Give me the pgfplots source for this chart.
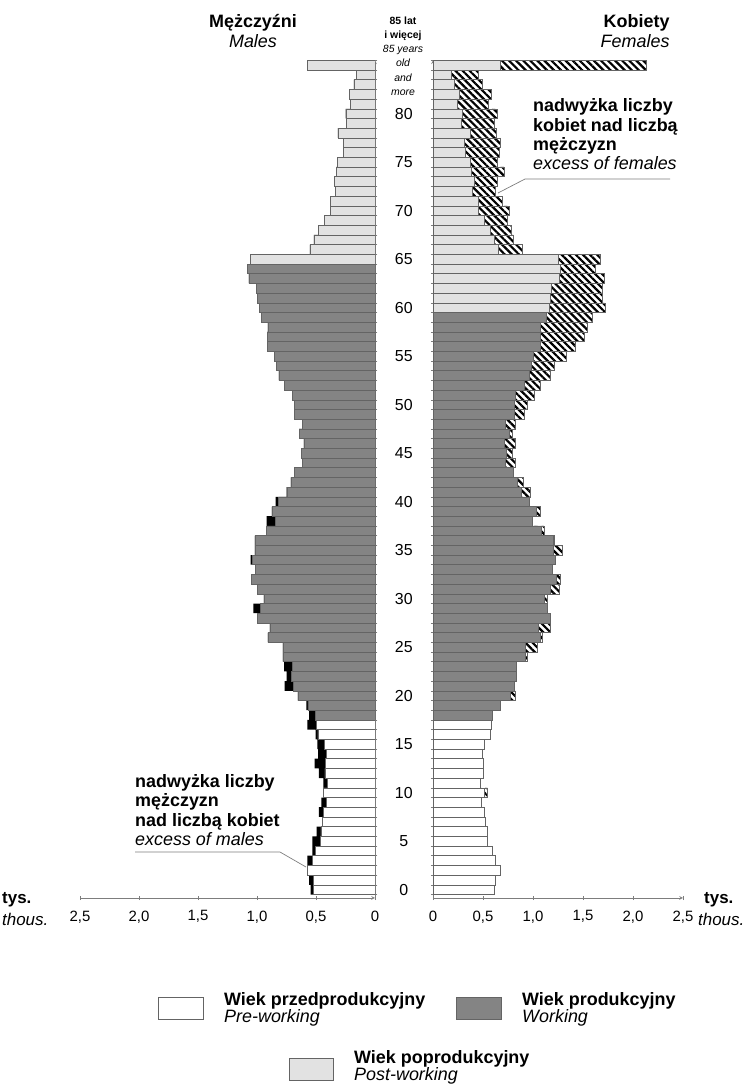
\documentclass[border=0pt]{standalone}
\usepackage{fontspec}
\setmainfont{Liberation Sans}
\usepackage{pgfplots}
\pgfplotsset{compat=1.18}
\usepackage{pgfplotstable}
\usetikzlibrary{patterns.meta}

\definecolor{work}{RGB}{132,132,132}
\definecolor{post}{RGB}{226,226,226}
\definecolor{edge}{RGB}{100,100,100}
\definecolor{axisgray}{RGB}{125,125,125}

% males: total and part common with females (thousands, left axis)
\pgfplotstableread{
age total common
0 0.545 0.521
1 0.559 0.525
2 0.574 0.574
3 0.574 0.531
4 0.531 0.503
5 0.531 0.460
6 0.494 0.458
7 0.447 0.447
8 0.475 0.435
9 0.455 0.411
10 0.438 0.438
11 0.438 0.404
12 0.475 0.425
13 0.511 0.422
14 0.483 0.414
15 0.489 0.432
16 0.503 0.485
17 0.574 0.496
18 0.559 0.506
19 0.582 0.569
20 0.653 0.653
21 0.765 0.691
22 0.748 0.708
23 0.771 0.703
24 0.780 0.780
25 0.780 0.780
26 0.907 0.907
27 0.890 0.890
28 0.997 0.997
29 1.031 0.969
30 0.941 0.941
31 0.997 0.997
32 1.048 1.048
33 1.011 1.011
34 1.053 1.038
35 1.019 1.019
36 1.019 1.019
37 0.918 0.918
38 0.918 0.845
39 0.875 0.875
40 0.842 0.816
41 0.748 0.748
42 0.714 0.714
43 0.682 0.682
44 0.616 0.616
45 0.625 0.625
46 0.602 0.602
47 0.644 0.644
48 0.616 0.616
49 0.686 0.686
50 0.686 0.686
51 0.701 0.701
52 0.771 0.771
53 0.814 0.814
54 0.833 0.833
55 0.850 0.850
56 0.913 0.913
57 0.913 0.913
58 0.907 0.907
59 0.964 0.964
60 0.983 0.983
61 0.997 0.997
62 1.003 1.003
63 1.068 1.068
64 1.082 1.082
65 1.059 1.059
66 0.551 0.551
67 0.517 0.517
68 0.483 0.483
69 0.432 0.432
70 0.381 0.381
71 0.381 0.381
72 0.333 0.333
73 0.347 0.347
74 0.328 0.328
75 0.319 0.319
76 0.271 0.271
77 0.269 0.269
78 0.314 0.314
79 0.240 0.240
80 0.248 0.248
81 0.209 0.209
82 0.220 0.220
83 0.178 0.178
84 0.155 0.155
85 0.574 0.574
}\male

% females: total and part common with males (thousands, right axis)
\pgfplotstableread{
age total common
0 0.615 0.615
1 0.620 0.620
2 0.677 0.677
3 0.627 0.627
4 0.593 0.593
5 0.543 0.543
6 0.540 0.540
7 0.527 0.527
8 0.513 0.513
9 0.485 0.485
10 0.543 0.517
11 0.477 0.477
12 0.502 0.502
13 0.498 0.498
14 0.488 0.488
15 0.510 0.510
16 0.572 0.572
17 0.585 0.585
18 0.597 0.597
19 0.672 0.672
20 0.827 0.770
21 0.815 0.815
22 0.835 0.835
23 0.830 0.830
24 0.943 0.920
25 1.043 0.920
26 1.093 1.070
27 1.177 1.050
28 1.177 1.177
29 1.143 1.143
30 1.143 1.110
31 1.267 1.177
32 1.277 1.237
33 1.193 1.193
34 1.225 1.225
35 1.293 1.203
36 1.210 1.203
37 1.110 1.083
38 0.997 0.997
39 1.077 1.033
40 0.963 0.963
41 0.970 0.883
42 0.903 0.843
43 0.805 0.805
44 0.820 0.727
45 0.793 0.737
46 0.827 0.710
47 0.793 0.760
48 0.827 0.727
49 0.910 0.810
50 0.943 0.810
51 1.010 0.827
52 1.077 0.910
53 1.177 0.960
54 1.210 0.983
55 1.333 1.003
56 1.420 1.077
57 1.510 1.077
58 1.543 1.070
59 1.593 1.137
60 1.720 1.160
61 1.693 1.177
62 1.693 1.183
63 1.710 1.260
64 1.620 1.277
65 1.677 1.250
66 0.893 0.650
67 0.800 0.610
68 0.787 0.570
69 0.743 0.510
70 0.767 0.450
71 0.693 0.450
72 0.627 0.393
73 0.643 0.410
74 0.710 0.387
75 0.643 0.377
76 0.667 0.320
77 0.670 0.317
78 0.633 0.370
79 0.610 0.283
80 0.643 0.293
81 0.553 0.247
82 0.583 0.260
83 0.493 0.210
84 0.453 0.183
85 2.130 0.677
}\female

\pgfplotsset{
  pyr/.style={
    scale only axis, height=837.6bp, ymin=-0.85, ymax=85.5,
    enlargelimits=false,
    axis line style={-, draw=axisgray, line width=0.7pt},
    tick style={draw=axisgray, line width=0.5pt},
    major tick length=4.5bp, minor tick length=4.5bp,
    xtick align=inside, ytick align=center,
    tick label style={font=\fontsize{15}{18}\selectfont},
    xticklabel style={yshift=-7bp},
  },
  mybar/.style={xbar, bar width=1, bar shift=0, draw=edge, line width=0.45pt},
}

\begin{document}
\begin{tikzpicture}
\useasboundingbox (0,0) rectangle (754bp,-1086bp);

% ---------- males ----------
\begin{axis}[pyr, at={(80bp,-897.9bp)}, anchor=south west, width=295bp,
  xmin=-2.5, xmax=0,
  axis x line=bottom, axis y line=right,
  xtick={-2.5,-2,-1.5,-1,-0.5,0},
  xticklabels={{2,5},{2,0},{1,5},{1,0},{0,5},0},
  ytick={-0.5,0.5,...,85.5}, yticklabels={},
]
\addplot[mybar, fill=black, draw=none] table[x expr=-\thisrow{total}, y=age] {\male};
\addplot[mybar, fill=white, restrict y to domain=0:17] table[x expr=-\thisrow{common}, y=age] {\male};
\addplot[mybar, fill=work, restrict y to domain=18:64] table[x expr=-\thisrow{common}, y=age] {\male};
\addplot[mybar, fill=post, restrict y to domain=65:85] table[x expr=-\thisrow{common}, y=age] {\male};
\end{axis}

% ---------- females ----------
\begin{axis}[pyr, at={(433bp,-897.9bp)}, anchor=south west, width=250bp,
  xmin=0, xmax=2.5,
  axis x line=bottom, axis y line=left,
  xtick={0,0.5,1,1.5,2,2.5},
  xticklabels={0,{0,5},{1,0},{1,5},{2,0},{2,5}},
  ytick={0,5,...,80},
  yticklabels={0,5,10,15,20,25,30,35,40,45,50,55,60,65,70,75,80},
  every major y tick/.style={draw=none},
  minor ytick={-0.5,0.5,...,85.5},
  yticklabel style={anchor=center, xshift=-27bp, font=\fontsize{16}{18}\selectfont},
]
\addplot[mybar, pattern={Lines[angle=-45,distance=5bp,line width=2.2bp]}] table[x=total, y=age] {\female};
\addplot[mybar, fill=white, restrict y to domain=0:17] table[x=common, y=age] {\female};
\addplot[mybar, fill=work, restrict y to domain=18:59] table[x=common, y=age] {\female};
\addplot[mybar, fill=post, restrict y to domain=60:85] table[x=common, y=age] {\female};
\end{axis}

% ---------- headings ----------
\node[anchor=base, font=\bfseries\fontsize{18}{20}\selectfont] at (253bp,-27bp) {Mężczyźni};
\node[anchor=base, font=\itshape\fontsize{18}{20}\selectfont] at (253bp,-47bp) {Males};
\node[anchor=base east, font=\bfseries\fontsize{18}{20}\selectfont] at (673bp,-27bp) {Kobiety};
\node[anchor=base east, font=\itshape\fontsize{18}{20}\selectfont] at (673bp,-47bp) {Females};

\node[anchor=base, font=\bfseries\fontsize{10.5}{12}\selectfont] at (403bp,-24bp) {85 lat};
\node[anchor=base, font=\bfseries\fontsize{10.5}{12}\selectfont] at (403bp,-38bp) {i więcej};
\node[anchor=base, font=\itshape\fontsize{10.5}{12}\selectfont] at (403bp,-52bp) {85 years};
\node[anchor=base, font=\itshape\fontsize{10.5}{12}\selectfont] at (403bp,-66bp) {old};
\node[anchor=base, font=\itshape\fontsize{10.5}{12}\selectfont] at (403bp,-81bp) {and};
\node[anchor=base, font=\itshape\fontsize{10.5}{12}\selectfont] at (403bp,-95bp) {more};

% ---------- annotations ----------
\node[anchor=base west, inner sep=0pt, font=\bfseries\fontsize{18}{20}\selectfont] at (533bp,-111bp) {nadwyżka liczby};
\node[anchor=base west, inner sep=0pt, font=\bfseries\fontsize{18}{20}\selectfont] at (533bp,-131bp) {kobiet nad liczbą};
\node[anchor=base west, inner sep=0pt, font=\bfseries\fontsize{18}{20}\selectfont] at (533bp,-150bp) {mężczyzn};
\node[anchor=base west, inner sep=0pt, font=\itshape\fontsize{18}{20}\selectfont] at (533bp,-169bp) {excess of females};
\draw[axisgray, line width=0.7pt] (670bp,-179bp) -- (525bp,-179bp) -- (498bp,-193bp);

\node[anchor=base west, inner sep=0pt, font=\bfseries\fontsize{18}{20}\selectfont] at (135bp,-787bp) {nadwyżka liczby};
\node[anchor=base west, inner sep=0pt, font=\bfseries\fontsize{18}{20}\selectfont] at (135bp,-806bp) {mężczyzn};
\node[anchor=base west, inner sep=0pt, font=\bfseries\fontsize{18}{20}\selectfont] at (135bp,-826bp) {nad liczbą kobiet};
\node[anchor=base west, inner sep=0pt, font=\itshape\fontsize{18}{20}\selectfont] at (135bp,-845bp) {excess of males};
\draw[axisgray, line width=0.7pt] (135bp,-852bp) -- (280bp,-852bp) -- (306bp,-867bp);

% ---------- units ----------
\node[anchor=base west, inner sep=0pt, font=\bfseries\fontsize{17}{20}\selectfont] at (2bp,-903bp) {tys.};
\node[anchor=base west, inner sep=0pt, font=\itshape\fontsize{17}{20}\selectfont] at (2bp,-925bp) {thous.};
\node[anchor=base west, inner sep=0pt, font=\bfseries\fontsize{17}{20}\selectfont] at (704bp,-903bp) {tys.};
\node[anchor=base west, inner sep=0pt, font=\itshape\fontsize{17}{20}\selectfont] at (698bp,-925bp) {thous.};

% ---------- legend ----------
\draw[edge, line width=0.5pt, fill=white] (158bp,-997bp) rectangle (203bp,-1019bp);
\node[anchor=base west, inner sep=0pt, font=\bfseries\fontsize{18}{20}\selectfont] at (224bp,-1005bp) {Wiek przedprodukcyjny};
\node[anchor=base west, inner sep=0pt, font=\itshape\fontsize{18}{20}\selectfont] at (224bp,-1022bp) {Pre-working};
\draw[edge, line width=0.5pt, fill=work] (456bp,-997bp) rectangle (501bp,-1019bp);
\node[anchor=base west, inner sep=0pt, font=\bfseries\fontsize{18}{20}\selectfont] at (522bp,-1005bp) {Wiek produkcyjny};
\node[anchor=base west, inner sep=0pt, font=\itshape\fontsize{18}{20}\selectfont] at (522bp,-1022bp) {Working};
\draw[edge, line width=0.5pt, fill=post] (289bp,-1058bp) rectangle (333bp,-1080bp);
\node[anchor=base west, inner sep=0pt, font=\bfseries\fontsize{18}{20}\selectfont] at (354bp,-1063bp) {Wiek poprodukcyjny};
\node[anchor=base west, inner sep=0pt, font=\itshape\fontsize{18}{20}\selectfont] at (354bp,-1080bp) {Post-working};
\end{tikzpicture}
\end{document}
